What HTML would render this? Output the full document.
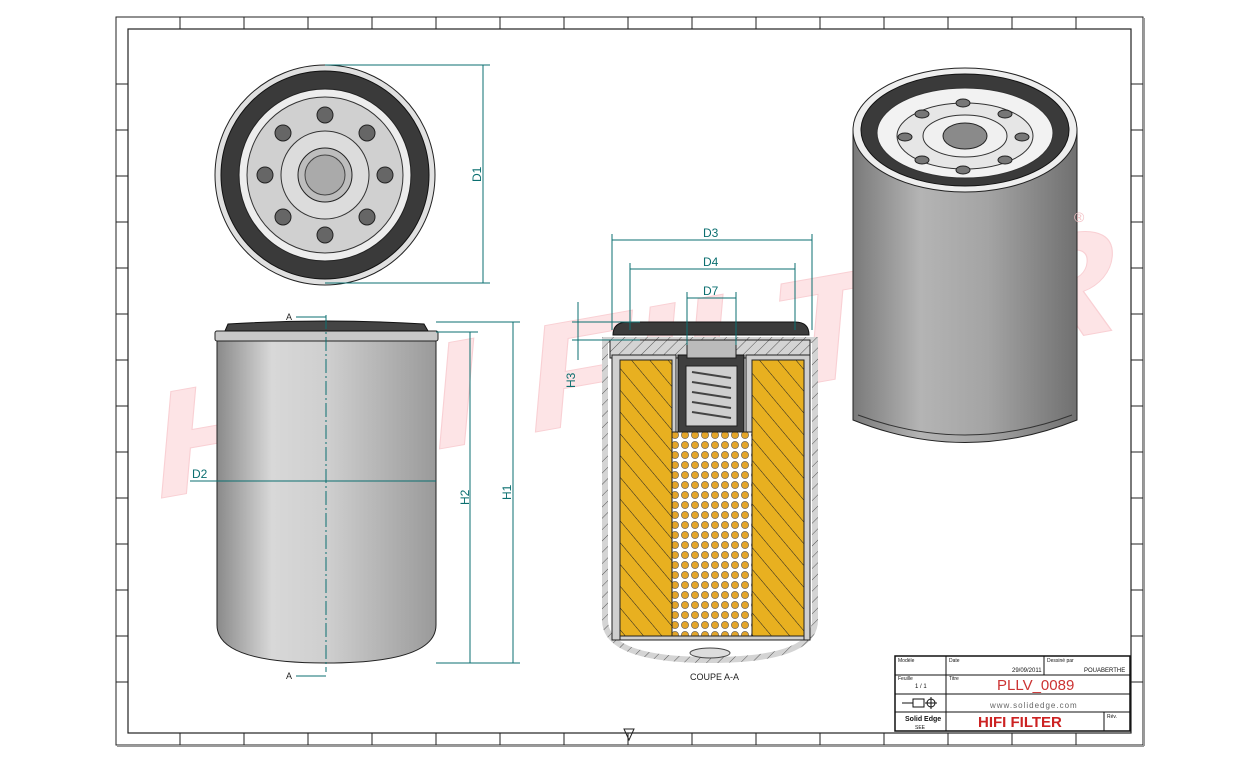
<!DOCTYPE html>
<html><head><meta charset="utf-8"><style>
html,body{margin:0;padding:0;background:#fff;}
svg{display:block;font-family:"Liberation Sans",sans-serif;}
</style></head><body>
<svg width="1233" height="762" viewBox="0 0 1233 762" xmlns="http://www.w3.org/2000/svg">
<defs>
<linearGradient id="body" x1="0" x2="1" y1="0" y2="0">
<stop offset="0" stop-color="#8a8a8a"/><stop offset="0.25" stop-color="#d8d8d8"/><stop offset="0.5" stop-color="#cfcfcf"/><stop offset="1" stop-color="#9a9a9a"/></linearGradient>
<linearGradient id="body3" x1="0" x2="1" y1="0" y2="0">
<stop offset="0" stop-color="#7a7a7a"/><stop offset="0.3" stop-color="#b4b4b4"/><stop offset="0.6" stop-color="#a4a4a4"/><stop offset="1" stop-color="#707070"/></linearGradient>
<pattern id="hatch" width="14" height="14" patternUnits="userSpaceOnUse" patternTransform="rotate(-40)">
<rect width="14" height="14" fill="#e8b020"/><line x1="0" y1="0" x2="0" y2="14" stroke="#222" stroke-width="1"/></pattern>
<pattern id="perf" width="10" height="10" patternUnits="userSpaceOnUse">
<rect width="10" height="10" fill="#fff"/><circle cx="5" cy="5" r="3.6" fill="#e3a52a" stroke="#555" stroke-width="0.6"/></pattern>
<pattern id="hatchg" width="8" height="8" patternUnits="userSpaceOnUse" patternTransform="rotate(45)">
<rect width="8" height="8" fill="#d4d4d4"/><line x1="0" y1="0" x2="0" y2="8" stroke="#333" stroke-width="0.8"/></pattern>
</defs>
<rect width="1233" height="762" fill="#fff"/>
<!-- watermark -->
<text x="0" y="0" transform="translate(150,500) rotate(-10) skewX(-15)" font-size="150" font-weight="bold" fill="#fde4e6" stroke="#f9d0d4" stroke-width="1" textLength="980" lengthAdjust="spacingAndGlyphs">HIFI FILTER</text>
<!-- frames -->
<rect x="116" y="17" width="1027" height="728" fill="none" stroke="#222" stroke-width="1"/>
<rect x="128" y="29" width="1003" height="704" fill="none" stroke="#222" stroke-width="1.2"/>
<line x1="117" y1="746" x2="1144" y2="746" stroke="#999" stroke-width="2"/>
<line x1="1144" y1="18" x2="1144" y2="746" stroke="#999" stroke-width="2"/>
<g stroke="#222" stroke-width="1">
<line x1="180" y1="17" x2="180" y2="29"/><line x1="244" y1="17" x2="244" y2="29"/><line x1="308" y1="17" x2="308" y2="29"/><line x1="372" y1="17" x2="372" y2="29"/><line x1="436" y1="17" x2="436" y2="29"/><line x1="500" y1="17" x2="500" y2="29"/><line x1="564" y1="17" x2="564" y2="29"/><line x1="628" y1="17" x2="628" y2="29"/><line x1="692" y1="17" x2="692" y2="29"/><line x1="756" y1="17" x2="756" y2="29"/><line x1="820" y1="17" x2="820" y2="29"/><line x1="884" y1="17" x2="884" y2="29"/><line x1="948" y1="17" x2="948" y2="29"/><line x1="1012" y1="17" x2="1012" y2="29"/><line x1="1076" y1="17" x2="1076" y2="29"/>
<line x1="180" y1="733" x2="180" y2="745"/><line x1="244" y1="733" x2="244" y2="745"/><line x1="308" y1="733" x2="308" y2="745"/><line x1="372" y1="733" x2="372" y2="745"/><line x1="436" y1="733" x2="436" y2="745"/><line x1="500" y1="733" x2="500" y2="745"/><line x1="564" y1="733" x2="564" y2="745"/><line x1="628" y1="733" x2="628" y2="745"/><line x1="692" y1="733" x2="692" y2="745"/><line x1="756" y1="733" x2="756" y2="745"/><line x1="820" y1="733" x2="820" y2="745"/><line x1="884" y1="733" x2="884" y2="745"/><line x1="948" y1="733" x2="948" y2="745"/><line x1="1012" y1="733" x2="1012" y2="745"/><line x1="1076" y1="733" x2="1076" y2="745"/>
<line x1="116" y1="84" x2="128" y2="84"/><line x1="116" y1="130" x2="128" y2="130"/><line x1="116" y1="176" x2="128" y2="176"/><line x1="116" y1="222" x2="128" y2="222"/><line x1="116" y1="268" x2="128" y2="268"/><line x1="116" y1="314" x2="128" y2="314"/><line x1="116" y1="360" x2="128" y2="360"/><line x1="116" y1="406" x2="128" y2="406"/><line x1="116" y1="452" x2="128" y2="452"/><line x1="116" y1="498" x2="128" y2="498"/><line x1="116" y1="544" x2="128" y2="544"/><line x1="116" y1="590" x2="128" y2="590"/><line x1="116" y1="636" x2="128" y2="636"/><line x1="116" y1="682" x2="128" y2="682"/>
<line x1="1131" y1="84" x2="1143" y2="84"/><line x1="1131" y1="130" x2="1143" y2="130"/><line x1="1131" y1="176" x2="1143" y2="176"/><line x1="1131" y1="222" x2="1143" y2="222"/><line x1="1131" y1="268" x2="1143" y2="268"/><line x1="1131" y1="314" x2="1143" y2="314"/><line x1="1131" y1="360" x2="1143" y2="360"/><line x1="1131" y1="406" x2="1143" y2="406"/><line x1="1131" y1="452" x2="1143" y2="452"/><line x1="1131" y1="498" x2="1143" y2="498"/><line x1="1131" y1="544" x2="1143" y2="544"/><line x1="1131" y1="590" x2="1143" y2="590"/><line x1="1131" y1="636" x2="1143" y2="636"/><line x1="1131" y1="682" x2="1143" y2="682"/>
</g>
<polygon points="624,729 634,729 629,740" fill="none" stroke="#222"/>

<!-- top view -->
<circle cx="325" cy="175" r="110" fill="#e0e0e0" stroke="#222"/>
<circle cx="325" cy="175" r="104" fill="#3a3a3a" stroke="#111"/>
<circle cx="325" cy="175" r="86" fill="#ededed" stroke="#222"/>
<circle cx="325" cy="175" r="78" fill="#d0d0d0" stroke="#333"/>
<g fill="#666" stroke="#222">
<circle cx="325" cy="115" r="8"/><circle cx="367" cy="133" r="8"/><circle cx="385" cy="175" r="8"/><circle cx="367" cy="217" r="8"/><circle cx="325" cy="235" r="8"/><circle cx="283" cy="217" r="8"/><circle cx="265" cy="175" r="8"/><circle cx="283" cy="133" r="8"/></g>
<circle cx="325" cy="175" r="44" fill="#dcdcdc" stroke="#333"/>
<circle cx="325" cy="175" r="27" fill="#bdbdbd" stroke="#222"/>
<circle cx="325" cy="175" r="20" fill="#aaa" stroke="#444"/>

<!-- side view -->
<path d="M217,340 L436,340 L436,625 Q436,663 326,663 Q217,663 217,625 Z" fill="url(#body)" stroke="#222"/>
<rect x="215" y="331" width="223" height="10" rx="2" fill="#c8c8c8" stroke="#222"/>
<path d="M225,331 L228,324 Q326,318 424,324 L428,331 Z" fill="#444" stroke="#111"/>
<line x1="326" y1="315" x2="326" y2="672" stroke="#0b6f70" stroke-dasharray="14,3,2,3"/>
<g stroke="#0b6f70" fill="none" stroke-width="1">
<line x1="296" y1="317" x2="326" y2="317"/><line x1="296" y1="676" x2="326" y2="676"/>
<line x1="325" y1="65" x2="490" y2="65"/><line x1="325" y1="283" x2="490" y2="283"/>
<line x1="483" y1="65" x2="483" y2="283"/>
<line x1="436" y1="332" x2="478" y2="332"/><line x1="436" y1="322" x2="520" y2="322"/><line x1="436" y1="663" x2="520" y2="663"/>
<line x1="470" y1="332" x2="470" y2="663"/><line x1="513" y1="322" x2="513" y2="663"/>
<line x1="190" y1="481" x2="436" y2="481"/>
</g>
<g fill="#0b6f70" font-size="12">
<text transform="translate(481,182) rotate(-90)">D1</text>
<text transform="translate(469,505) rotate(-90)">H2</text>
<text transform="translate(511,500) rotate(-90)">H1</text>
<text x="192" y="478">D2</text>
</g>
<text x="286" y="320" font-size="9" fill="#222">A</text>
<text x="286" y="679" font-size="9" fill="#222">A</text>

<!-- section -->
<path d="M605,340 L815,340 L815,620 Q815,660 710,660 Q605,660 605,620 Z" fill="#fff" stroke="#222"/>
<path d="M605,340 L815,340 L815,620 Q815,660 710,660 Q605,660 605,620 Z" fill="none" stroke="url(#hatchg)" stroke-width="6"/>
<rect x="610" y="340" width="200" height="18" fill="url(#hatchg)" stroke="#222"/>
<path d="M613,335 Q613,322 628,322 L795,322 Q809,322 809,335 Z" fill="#3b3b3b" stroke="#111"/>
<rect x="612" y="355" width="64" height="285" fill="#cfcfcf" stroke="#222"/>
<rect x="746" y="355" width="64" height="285" fill="#cfcfcf" stroke="#222"/>
<rect x="620" y="360" width="52" height="276" fill="url(#hatch)" stroke="#222"/>
<rect x="752" y="360" width="52" height="276" fill="url(#hatch)" stroke="#222"/>
<rect x="678" y="355" width="66" height="78" fill="#3f3f3f" stroke="#111"/>
<rect x="687" y="340" width="49" height="18" fill="#bbb" stroke="#222"/>
<rect x="686" y="366" width="51" height="60" fill="#cfcfcf" stroke="#222"/>
<g stroke="#444" stroke-width="2" fill="none">
<path d="M692,372 L731,378 M692,382 L731,388 M692,392 L731,398 M692,402 L731,408 M692,412 L731,418"/></g>
<rect x="672" y="432" width="80" height="204" fill="url(#perf)" stroke="#222"/>
<rect x="620" y="636" width="184" height="4" fill="#cfcfcf" stroke="#222"/>
<ellipse cx="710" cy="653" rx="20" ry="5" fill="#ddd" stroke="#444"/>
<g stroke="#0b6f70" fill="none">
<line x1="612" y1="234" x2="612" y2="330"/><line x1="812" y1="234" x2="812" y2="330"/>
<line x1="612" y1="240" x2="812" y2="240"/>
<line x1="630" y1="263" x2="630" y2="330"/><line x1="795" y1="263" x2="795" y2="330"/>
<line x1="630" y1="269" x2="795" y2="269"/>
<line x1="687" y1="292" x2="687" y2="345"/><line x1="736" y1="292" x2="736" y2="345"/>
<line x1="687" y1="298" x2="736" y2="298"/>
<line x1="572" y1="322" x2="640" y2="322"/><line x1="572" y1="340" x2="640" y2="340"/>
<line x1="578" y1="302" x2="578" y2="360"/>
</g>
<g fill="#0b6f70" font-size="12">
<text x="703" y="237">D3</text><text x="703" y="266">D4</text><text x="703" y="295">D7</text>
<text transform="translate(575,388) rotate(-90)">H3</text>
</g>
<text x="690" y="680" font-size="9" fill="#222">COUPE A-A</text>

<!-- 3D -->
<path d="M853,130 L853,420 Q965,465 1077,420 L1077,130 Z" fill="url(#body3)" stroke="#222"/>
<path d="M858,415 Q965,455 1072,415" fill="none" stroke="#333"/>
<ellipse cx="965" cy="130" rx="112" ry="62" fill="#eee" stroke="#222"/>
<ellipse cx="965" cy="130" rx="104" ry="56" fill="#3a3a3a" stroke="#111"/>
<ellipse cx="965" cy="133" rx="88" ry="45" fill="#f2f2f2" stroke="#333"/>
<ellipse cx="965" cy="136" rx="68" ry="33" fill="#e6e6e6" stroke="#333"/>
<g fill="#777" stroke="#222">
<ellipse cx="963" cy="103" rx="7" ry="4"/><ellipse cx="1005" cy="114" rx="7" ry="4"/><ellipse cx="1022" cy="137" rx="7" ry="4"/><ellipse cx="1005" cy="160" rx="7" ry="4"/><ellipse cx="963" cy="170" rx="7" ry="4"/><ellipse cx="922" cy="160" rx="7" ry="4"/><ellipse cx="905" cy="137" rx="7" ry="4"/><ellipse cx="922" cy="114" rx="7" ry="4"/></g>
<ellipse cx="965" cy="136" rx="42" ry="21" fill="#f0f0f0" stroke="#333"/>
<ellipse cx="965" cy="136" rx="22" ry="13" fill="#8a8a8a" stroke="#222"/>
<text x="1074" y="222" font-size="14" fill="#f3c2c6">®</text>

<!-- title block -->
<g stroke="#111" fill="none">
<rect x="895" y="656" width="235" height="75" stroke-width="1.5"/>
<line x1="946" y1="656" x2="946" y2="731"/>
<line x1="895" y1="675" x2="1130" y2="675"/>
<line x1="895" y1="694" x2="1130" y2="694"/>
<line x1="895" y1="712" x2="1130" y2="712"/>
<line x1="1044" y1="656" x2="1044" y2="675"/>
<line x1="1104" y1="712" x2="1104" y2="731"/>
</g>
<g font-size="5" fill="#111"><text x="898" y="662">Modèle</text><text x="949" y="662">Date</text><text x="1047" y="662">Dessiné par</text><text x="898" y="680">Feuille</text><text x="949" y="680">Titre</text><text x="1107" y="718">Rév.</text></g>
<text x="1012" y="672" font-size="6" fill="#111">29/09/2011</text>
<text x="1084" y="672" font-size="6" fill="#111">POUABERTHE</text>
<text x="915" y="688" font-size="6" fill="#111">1 / 1</text>
<text x="997" y="690" font-size="15" fill="#c33">PLLV_0089</text>
<text x="990" y="708" font-size="8" fill="#666" letter-spacing="1">www.solidedge.com</text>
<text x="978" y="727" font-size="15" font-weight="bold" fill="#c22">HIFI FILTER</text>
<text x="905" y="721" font-size="7" font-weight="bold" fill="#111">Solid Edge</text>
<text x="915" y="729" font-size="5" fill="#111">SEE</text>
<path d="M902,703 L913,703 M913,699 L924,699 L924,707 L913,707 Z M931,697 L931,709 M925,703 L937,703" stroke="#111" fill="none"/>
<circle cx="931" cy="703" r="4" fill="none" stroke="#111"/>
</svg>
</body></html>
